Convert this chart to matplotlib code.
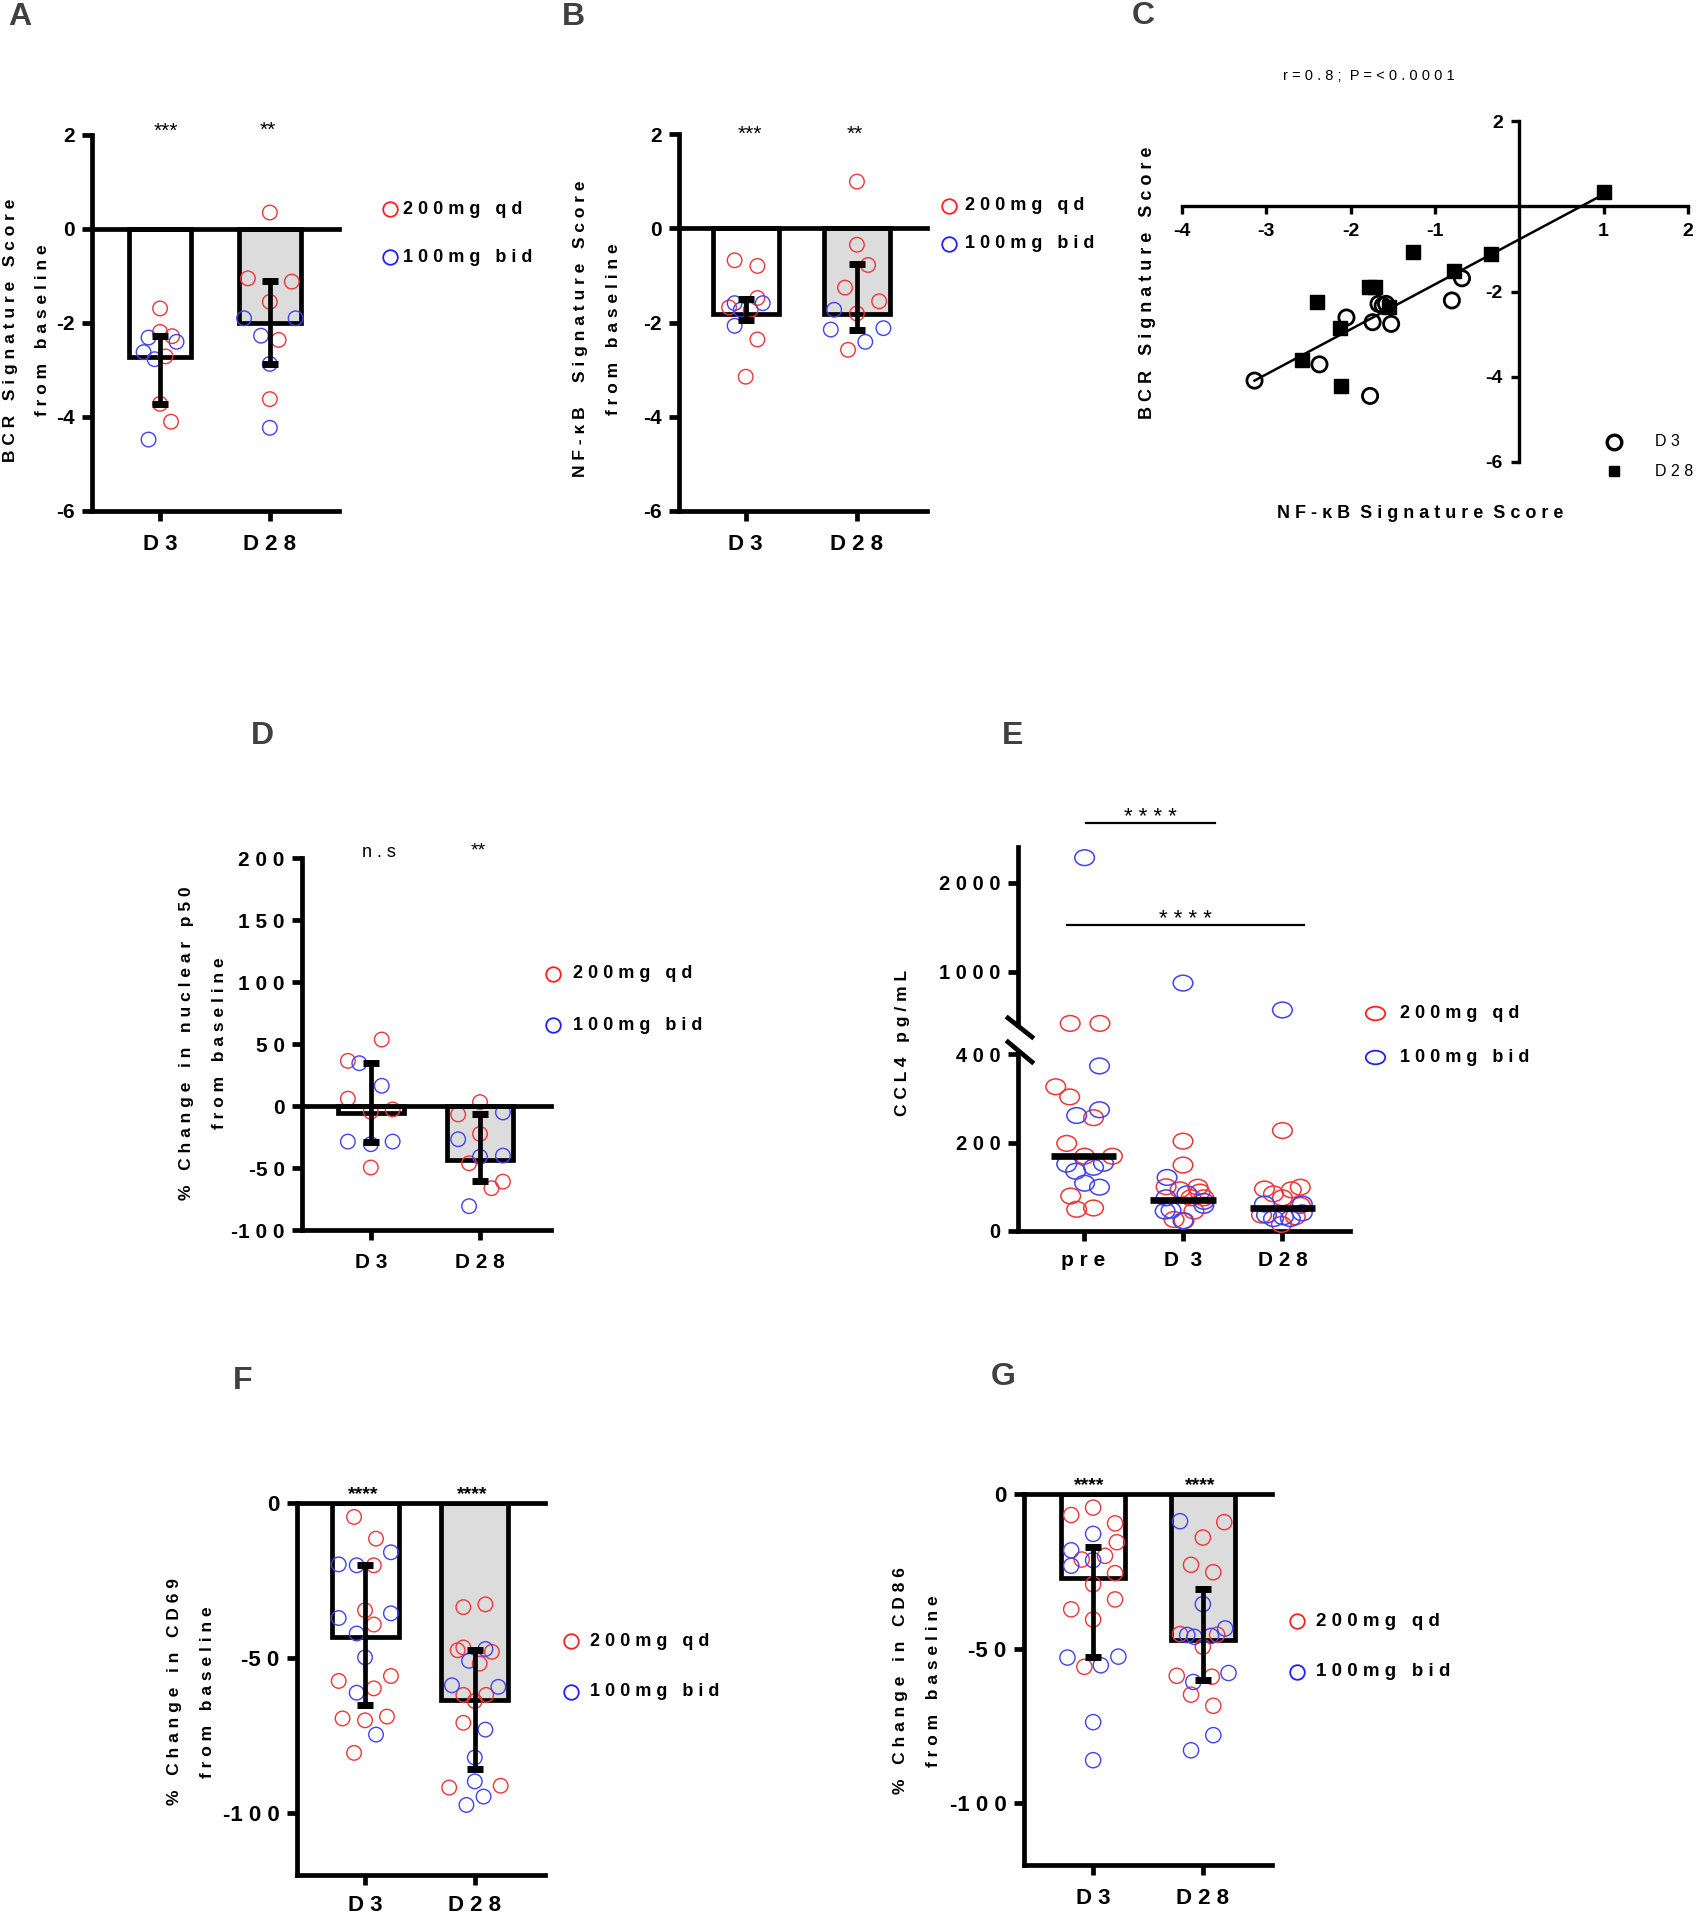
import matplotlib
matplotlib.use("Agg")
import matplotlib.pyplot as plt
import numpy as np
from matplotlib.lines import Line2D
from matplotlib.path import Path

W, H, DPI = 1698, 1920, 100
RED, BLUE = "#ee3636", "#4242ee"
LRED, LBLUE = "#ff2020", "#2020ff"
GRAY_BAR = "#dcdcdc"
FONT = ["Liberation Sans", "DejaVu Sans"]
NARROW = ["Liberation Sans Narrow", "Liberation Sans", "DejaVu Sans"]
LW = 3.4

plt.rcParams["font.family"] = FONT

# ---------------------------------------------------------------- data
GROUPS = ["D 3", "D 2 8"]

# A: BCR signature score change
A_mean = [-2.73, -2.00]
A_err_low = [-3.73, -2.87]
A_err_high = [-2.27, -1.10]
A_red = [[-1.69, -2.19, -2.28, -2.71, -3.72, -4.10],
         [0.35, -1.05, -1.12, -1.55, -2.36, -3.62]]
A_red_dx = [[0.0, 0.0, 0.11, 0.05, 0.0, 0.10],
            [0.0, -0.20, 0.20, 0.0, 0.08, 0.0]]
A_blue = [[-2.31, -2.40, -2.62, -2.77, -4.48],
          [-1.90, -1.90, -2.27, -2.87, -4.23]]
A_blue_dx = [[-0.105, 0.15, -0.15, -0.05, -0.105],
             [-0.235, 0.235, -0.08, 0.0, 0.0]]
A_yticks = [-6, -4, -2, 0, 2]
A_yticklabels = ["-6", "-4", "-2", "0", "2"]

# B: NF-kB signature score change
B_mean = [-1.81, -1.82]
B_err_low = [-1.94, -2.15]
B_err_high = [-1.50, -0.76]
B_red = [[-0.68, -0.80, -1.48, -1.68, -1.73, -2.36, -3.15],
         [0.99, -0.35, -0.78, -1.26, -1.55, -1.81, -2.58]]
B_red_dx = [[-0.10, 0.105, 0.105, -0.15, 0.045, 0.105, 0.0],
            [0.0, 0.0, 0.10, -0.107, 0.20, 0.0, -0.08]]
B_blue = [[-1.59, -1.59, -1.73, -2.07],
          [-1.73, -2.15, -2.12, -2.41]]
B_blue_dx = [[-0.10, 0.153, -0.045, -0.10],
             [-0.205, -0.235, 0.238, 0.075]]

# C: correlation NF-kB vs BCR
C_d3_x = [-3.14, -2.37, -2.05, -1.74, -1.67, -1.58, -1.62, -1.52, -1.77, -0.80, -0.68]
C_d3_y = [-4.09, -3.71, -2.61, -2.72, -2.29, -2.29, -2.33, -2.76, -4.45, -2.21, -1.69]
C_d28_x = [1.00, -0.34, -0.78, -1.26, -1.78, -1.71, -1.55, -2.40, -2.13, -2.58, -2.12]
C_d28_y = [0.34, -1.11, -1.51, -1.07, -1.89, -1.89, -2.37, -2.25, -2.86, -3.60, -4.22]
C_xticks = [-4, -3, -2, -1, 1, 2]
C_yticks = [-6, -4, -2, 2]

# D: nuclear p50 change
D_mean = [-5.5, -43.2]
D_err_low = [-29.0, -60.7]
D_err_high = [34.5, -6.2]
D_red = [[36.4, 53.6, 5.9, -4.6, -2.8, -49.6],
         [3.1, -6.8, -22.5, -46.2, -66.3, -61.0]]
D_red_dx = [[-0.21, 0.10, -0.21, 0.0, 0.20, 0.0],
            [0.0, -0.20, 0.0, -0.10, 0.105, 0.21]]
D_blue = [[34.5, 16.3, -28.7, -30.8, -28.7],
          [-5.2, -26.8, -41.0, -40.0, -80.8]]
D_blue_dx = [[-0.105, 0.10, -0.21, 0.0, 0.20],
             [0.21, -0.20, 0.0, 0.21, -0.10]]
D_yticks = [-100, -50, 0, 50, 100, 150, 200]
D_yticklabels = ["-1 0 0", "-5 0", "0", "5 0", "1 0 0", "1 5 0", "2 0 0"]

# E: CCL4 pg/mL
E_groups = ["p r e", "D  3", "D 2 8"]
E_median = [169, 71, 51]
E_red = [[418, 418, 326, 303, 256, 198, 169, 169, 79, 49, 52],
         [203, 149, 100, 93, 99, 88, 75, 75, 45, 26, 23],
         [227, 95, 84, 75, 93, 99, 58, 36, 15, 32]]
E_red_dx = [[-0.135, 0.164, -0.28, -0.14, 0.10, -0.17, 0.01, 0.29, -0.13, -0.07, 0.10],
            [0.0, 0.0, -0.17, -0.03, 0.15, 0.17, 0.08, 0.21, 0.11, -0.09, 0.01],
            [0.0, -0.18, -0.09, 0.0, 0.09, 0.18, 0.18, -0.21, -0.01, 0.13]]
E_blue = [[2280, 373, 274, 261, 151, 135, 144, 153, 108, 99],
          [871, 121, 75, 84, 67, 58, 45, 23, 47],
          [569, 61, 61, 36, 28, 32, 41, 28]]
E_blue_dx = [[0.01, 0.16, 0.16, -0.07, -0.17, -0.08, 0.10, 0.20, 0.01, 0.16],
             [0.0, -0.16, -0.17, 0.04, 0.21, 0.21, -0.18, 0.0, -0.12],
             [0.0, -0.18, 0.20, -0.16, -0.09, 0.01, 0.20, 0.08]]
E_low_ticks = [0, 200, 400]
E_low_labels = ["0", "2 0 0", "4 0 0"]
E_high_ticks = [1000, 2000]
E_high_labels = ["1 0 0 0", "2 0 0 0"]

# F: CD69 change
F_mean = [-43.3, -63.5]
F_err_low = [-65.0, -85.9]
F_err_high = [-20.1, -47.5]
F_red = [[-4.5, -11.5, -20.1, -34.6, -39.2, -57.4, -55.8, -59.8, -69.5, -70.1, -68.9, -80.6],
         [-33.6, -32.7, -46.6, -47.5, -48.0, -51.8, -61.9, -61.9, -63.9, -70.9, -91.8, -91.2]]
F_red_dx = [[-0.10, 0.10, 0.08, 0.0, 0.08, -0.24, 0.236, 0.08, -0.205, 0.0, 0.20, -0.10],
            [-0.104, 0.097, -0.104, -0.156, 0.156, 0.045, -0.104, 0.104, 0.0, -0.104, -0.233, 0.236]]
F_blue = [[-15.9, -19.8, -20.1, -37.1, -35.6, -42.1, -49.8, -61.2, -74.7],
          [-47.1, -50.9, -58.8, -59.3, -73.1, -82.1, -89.8, -94.7, -97.4]]
F_blue_dx = [[0.236, -0.24, -0.076, -0.24, 0.236, -0.076, 0.0, -0.076, 0.10],
             [0.097, -0.052, -0.208, 0.215, 0.097, 0.0, 0.0, 0.08, -0.076]]
FG_yticks = [-100, -50, 0]
FG_yticklabels = ["-1 0 0", "-5 0", "0"]

# G: CD86 change
G_mean = [-27.1, -47.3]
G_err_low = [-52.7, -60.0]
G_err_high = [-17.1, -30.6]
G_red = [[-4.4, -6.8, -9.5, -15.6, -20.0, -21.2, -25.6, -29.2, -34.1, -37.3, -40.6, -55.9],
         [-9.1, -14.1, -22.9, -25.3, -45.3, -45.5, -49.4, -58.8, -59.1, -64.9, -68.5]]
G_red_dx = [[0.0, -0.20, 0.20, 0.216, 0.108, -0.104, 0.20, 0.0, 0.20, -0.20, 0.0, -0.08],
            [0.195, 0.0, -0.108, 0.095, -0.208, 0.13, 0.0, -0.238, 0.082, -0.108, 0.095]]
G_blue = [[-12.9, -18.2, -21.4, -23.2, -52.9, -52.6, -55.4, -73.8, -86.1],
          [-8.8, -35.6, -43.5, -45.6, -46.2, -45.9, -57.9, -60.8, -78.0, -82.9]]
G_blue_dx = [[0.0, -0.20, 0.0, -0.20, -0.234, 0.23, 0.07, 0.0, 0.0],
             [-0.208, 0.0, 0.203, -0.143, -0.078, 0.074, 0.234, -0.087, 0.095, -0.108]]


# ---------------------------------------------------------------- helpers
def sp(s):
    """GraphPad-style letter spacing."""
    return " ".join(s)


fig = plt.figure(figsize=(W / DPI, H / DPI), dpi=DPI)


def add_axes(box):
    l, t, r, b = box
    return fig.add_axes([l / W, 1 - b / H, (r - l) / W, (b - t) / H])


def ftext(x, y, s, **kw):
    fig.text(x / W, 1 - y / H, s, **kw)


def fmark(x, y, **kw):
    fig.add_artist(Line2D([x / W], [1 - y / H], ls="none",
                          transform=fig.transFigure, **kw))


def frac(box, y_px):
    return (box[3] - y_px) / (box[3] - box[1])


def panel_label(x, y, s):
    ftext(x, y - 6, s, fontsize=23, fontweight="bold", color="#404040",
          ha="left", va="top")


def ylabel2(x1, x2, yc, l1, l2, size=12.5, family=FONT):
    ftext(x1, yc, sp(l1), rotation=90, ha="center", va="center",
          fontsize=size, fontweight="bold", family=family)
    if l2:
        ftext(x2, yc, sp(l2), rotation=90, ha="center", va="center",
              fontsize=size, fontweight="bold", family=family)


def dose_legend(xc, y1, y2, xt, size=13, ms=10.5, family=FONT,
                marker="o"):
    fmark(xc, y1, marker=marker, ms=ms, mfc="none", mec=LRED, mew=1.3)
    fmark(xc, y2, marker=marker, ms=ms, mfc="none", mec=LBLUE, mew=1.3)
    ftext(xt, y1, sp("200mg qd"), fontsize=size, fontweight="bold",
          va="center", ha="left", family=family)
    ftext(xt, y2, sp("100mg bid"), fontsize=size, fontweight="bold",
          va="center", ha="left", family=family)


def style(ax, lw=LW, tick_len=7.5):
    for s in ("top", "right"):
        ax.spines[s].set_visible(False)
    for s in ("left", "bottom"):
        ax.spines[s].set_linewidth(lw)
    ax.tick_params(width=lw, length=tick_len, direction="out")


def scatter_open(ax, x, y, color, s, marker="o", lw=1.0):
    x = np.asarray(x, dtype=float)
    y = np.asarray(y, dtype=float)
    if len(y) == 0:
        return
    ax.scatter(x, y, s=s, marker=marker, facecolors="none", edgecolors=color,
               linewidths=lw, zorder=3, clip_on=False)


def bar_panel(box, xlim, ylim, yticks, yticklabels, mean, err_low, err_high,
              red, red_dx, blue, blue_dx, bar_w=0.58, stars=None,
              tick_size=15, xlab_size=16, family=FONT, ms=110, xpad=9):
    ax = add_axes(box)
    x = np.arange(len(mean))
    mean = np.asarray(mean)
    ax.bar(x, mean, width=bar_w, color=["white", GRAY_BAR],
           edgecolor="black", linewidth=LW, zorder=2)
    for i in x:
        scatter_open(ax, i + np.asarray(red_dx[i]), red[i], RED, ms)
        scatter_open(ax, i + np.asarray(blue_dx[i]), blue[i], BLUE, ms)
    yerr = [mean - np.asarray(err_low), np.asarray(err_high) - mean]
    ax.errorbar(x, mean, yerr=yerr, fmt="none", ecolor="black",
                elinewidth=3.4, capsize=5.5, capthick=5, zorder=4)
    ax.axhline(0, color="black", lw=LW, zorder=5, clip_on=False)
    ax.set_xlim(*xlim)
    ax.set_ylim(*ylim)
    ax.set_yticks(yticks, labels=yticklabels)
    ax.set_xticks(x, labels=GROUPS)
    style(ax)
    for lab in ax.get_yticklabels():
        lab.set_fontsize(tick_size)
        lab.set_fontweight("bold")
        lab.set_family(family)
    for lab in ax.get_xticklabels():
        lab.set_fontsize(xlab_size)
        lab.set_fontweight("bold")
        lab.set_family(family)
    ax.tick_params(axis="y", pad=5)
    ax.tick_params(axis="x", pad=xpad)
    if stars:
        for (xs, y_px, s, size, weight) in stars:
            ax.text(xs, frac(box, y_px), s, transform=ax.get_xaxis_transform(),
                    ha="center", va="baseline", fontsize=size,
                    fontweight=weight, clip_on=False)
    return ax


# ---------------------------------------------------------------- A
boxA = (92, 135, 339, 511)
bar_panel(boxA, (-0.62, 1.63), (-6, 2), A_yticks, A_yticklabels,
          A_mean, A_err_low, A_err_high, A_red, A_red_dx, A_blue, A_blue_dx,
          bar_w=0.57,
          stars=[(0.05, 137, "***", 15, "normal"), (0.98, 136, "**", 15, "normal")])
panel_label(8, 8, "A")
ylabel2(11, 43, 330, "BCR Signature Score", "from baseline")
dose_legend(390, 209, 257, 403)

# ---------------------------------------------------------------- B
boxB = (679, 134, 927, 511)
bar_panel(boxB, (-0.60, 1.63), (-6, 2), A_yticks, A_yticklabels,
          B_mean, B_err_low, B_err_high, B_red, B_red_dx, B_blue, B_blue_dx,
          bar_w=0.59,
          stars=[(0.04, 140, "***", 15, "normal"), (0.98, 140, "**", 15, "normal")])
panel_label(562, 8, "B")
ylabel2(580, 613, 329, "NF-κB  Signature Score", "from baseline")
dose_legend(949, 206, 244, 965)

# ---------------------------------------------------------------- C
boxC = (1182, 121, 1688, 462)
axC = add_axes(boxC)
axC.scatter(C_d3_x, C_d3_y, s=120, facecolors="none", edgecolors="black",
            linewidths=2.0, zorder=3, clip_on=False)
axC.scatter(C_d28_x, C_d28_y, s=90, marker="s", color="black", zorder=3,
            clip_on=False)
all_x = np.array(C_d3_x + C_d28_x)
all_y = np.array(C_d3_y + C_d28_y)
slope, icpt = np.polyfit(all_x, all_y, 1)
xl = np.array([all_x.min(), all_x.max()])
axC.plot(xl, slope * xl + icpt, color="black", lw=1.8, zorder=2)
axC.set_xlim(-4, 2)
axC.set_ylim(-6, 2)
for s in ("top", "right"):
    axC.spines[s].set_visible(False)
for s in ("left", "bottom"):
    axC.spines[s].set_position(("data", 0))
    axC.spines[s].set_linewidth(2.4)
axC.set_xticks(C_xticks, labels=[str(v) for v in C_xticks])
axC.set_yticks(C_yticks, labels=[str(v) for v in C_yticks])
axC.tick_params(width=2.4, length=6, direction="out", labelsize=14, pad=6)
for lab in axC.get_xticklabels() + axC.get_yticklabels():
    lab.set_fontweight("bold")
panel_label(1132, 7, "C")
ftext(1369, 76, sp("r=0.8;") + "  " + sp("P=<0.0001"), fontsize=10.5,
      ha="center", va="center")
ylabel2(1148, None, 283, "BCR Signature Score", None, size=13)
ftext(1420, 513, sp("NF-κB") + "  " + sp("Signature") + "  " + sp("Score"),
      fontsize=13, fontweight="bold", ha="center", va="center")
fmark(1614, 442, marker="o", ms=10.5, mfc="none", mec="black", mew=2.4)
fmark(1614, 471, marker="s", ms=7.5, color="black")
ftext(1655, 442, "D 3", fontsize=11.5, va="center", ha="left")
ftext(1655, 471, "D 2 8", fontsize=11.5, va="center", ha="left")

# ---------------------------------------------------------------- D
boxD = (302, 858, 551, 1230)
bar_panel(boxD, (-0.63, 1.65), (-100, 200), D_yticks, D_yticklabels,
          D_mean, D_err_low, D_err_high, D_red, D_red_dx, D_blue, D_blue_dx,
          bar_w=0.60, xlab_size=15,
          stars=[(0.07, 857, "n . s", 13, "normal"), (0.98, 855, "**", 14, "normal")])
panel_label(251, 727, "D")
ylabel2(187, 219, 1043, "% Change in nuclear p50", "from baseline")
dose_legend(553, 974, 1025, 573)

# ---------------------------------------------------------------- E
boxE_lo = (1018, 1054, 1350, 1231)
boxE_hi = (1018, 847, 1350, 1025)
axL = add_axes(boxE_lo)
axU = add_axes(boxE_hi)
ell = Path(Path.unit_circle().vertices * np.array([1.0, 0.8]),
           Path.unit_circle().codes)
for ax, upper in ((axL, False), (axU, True)):
    for i in range(3):
        for vals, dxs, col in ((E_red[i], E_red_dx[i], RED),
                               (E_blue[i], E_blue_dx[i], BLUE)):
            v = np.asarray(vals, dtype=float)
            d = np.asarray(dxs)
            keep = (v > 400) if upper else (v <= 400)
            scatter_open(ax, i + d[keep], v[keep], col, 200, marker=ell,
                         lw=1.1)
    ax.set_xlim(-0.66, 2.68)
    style(ax)
axL.set_ylim(0, 400)
axU.set_ylim(400, 2400)
axL.hlines(E_median, np.arange(3) - 0.33, np.arange(3) + 0.33, color="black",
           lw=4.8, zorder=4)
axL.set_yticks(E_low_ticks, labels=E_low_labels)
axL.set_xticks(range(3), labels=E_groups)
axU.set_yticks(E_high_ticks, labels=E_high_labels)
axU.set_xticks([])
axU.spines["bottom"].set_visible(False)
for ax in (axL, axU):
    for lab in ax.get_yticklabels():
        lab.set_fontsize(14.5)
        lab.set_fontweight("bold")
    ax.tick_params(axis="y", pad=5)
for lab in axL.get_xticklabels():
    lab.set_fontsize(15)
    lab.set_fontweight("bold")
axL.tick_params(axis="x", pad=7)
# axis break marks
for (x0, y0, x1, y1) in ((1008, 1018, 1032, 1037), (1008, 1042, 1032, 1062)):
    fig.add_artist(Line2D([x0 / W, x1 / W], [1 - y0 / H, 1 - y1 / H],
                          color="black", lw=3.4, transform=fig.transFigure))
# significance bars
for (xa, xb, ybar) in ((0.02, 1.32, 2674), (-0.17, 2.22, 1528)):
    axU.plot([xa, xb], [ybar, ybar], color="black", lw=1.6, clip_on=False)
    axU.text((xa + xb) / 2, ybar, "* * * *", ha="center", va="baseline",
             fontsize=16, clip_on=False)
panel_label(1002, 727, "E")
ylabel2(903, None, 1043, "CCL4 pg/mL", None)
ell_leg = Path(Path.unit_circle().vertices * np.array([1.0, 0.7]),
               Path.unit_circle().codes)
dose_legend(1375, 1013, 1057, 1400, marker=ell_leg, ms=14)

# ---------------------------------------------------------------- F
boxF = (297, 1503, 545, 1875)
bar_panel(boxF, (-0.62, 1.64), (-120, 0), FG_yticks, FG_yticklabels,
          F_mean, F_err_low, F_err_high, F_red, F_red_dx, F_blue, F_blue_dx,
          bar_w=0.61, tick_size=16, xpad=7,
          stars=[(-0.02, 1499, "****", 14, "bold"), (0.98, 1499, "****", 14, "bold")])
panel_label(233, 1372, "F")
ylabel2(174, 207, 1692, "% Change in CD69", "from baseline")
dose_legend(571, 1641, 1692, 590)

# ---------------------------------------------------------------- G
boxG = (1024, 1494, 1272, 1865)
bar_panel(boxG, (-0.63, 1.63), (-120, 0), FG_yticks, FG_yticklabels,
          G_mean, G_err_low, G_err_high, G_red, G_red_dx, G_blue, G_blue_dx,
          bar_w=0.58, tick_size=16, family=NARROW, ms=120, xpad=9,
          stars=[(-0.04, 1490, "****", 14, "bold"), (0.98, 1490, "****", 14, "bold")])
panel_label(991, 1368, "G")
ylabel2(900, 934, 1681, "% Change in CD86", "from baseline")
dose_legend(1297, 1621, 1672, 1316, family=NARROW, size=13.5)

fig.savefig("out.png", dpi=DPI)
